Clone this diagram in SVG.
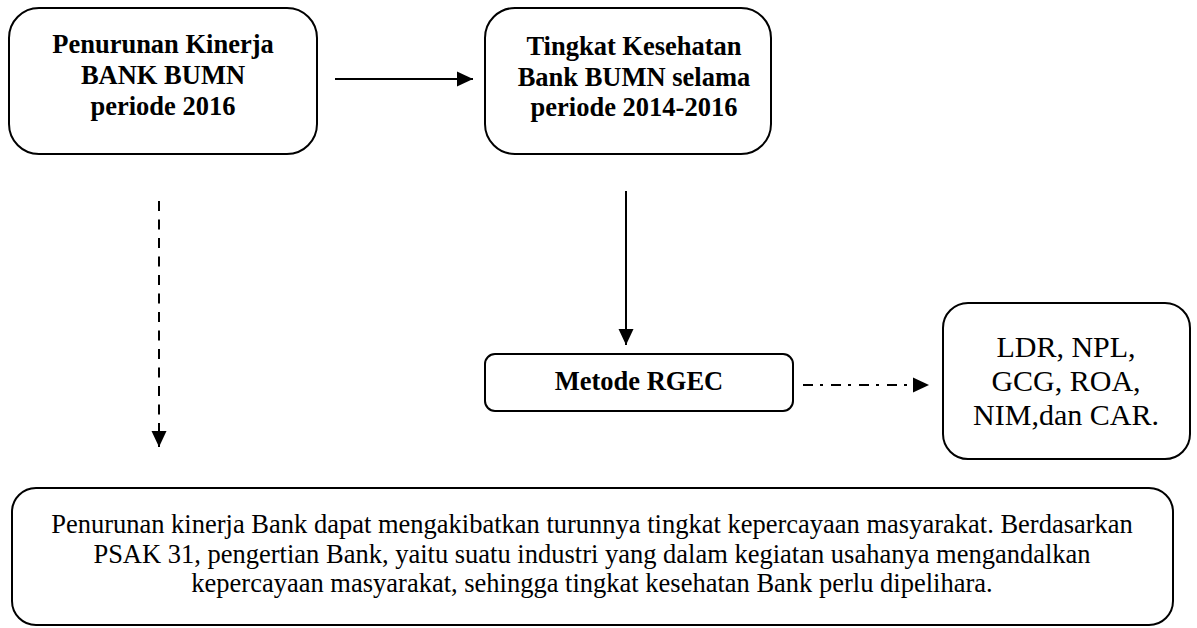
<svg xmlns="http://www.w3.org/2000/svg" width="1197" height="628" viewBox="0 0 1197 628">
<defs>
<style>
.box{fill:#fff;stroke:#000;stroke-width:2}
.tb{font-family:"Liberation Serif","Times New Roman",serif;font-weight:bold;font-size:26.5px;fill:#000;text-anchor:middle}
.tr{font-family:"Liberation Serif","Times New Roman",serif;font-size:26.5px;fill:#000;text-anchor:middle}
.tl{font-family:"Liberation Serif","Times New Roman",serif;font-size:30px;fill:#000;text-anchor:middle}
.ln{fill:none;stroke:#000;stroke-width:2}
</style>
<marker id="ah" markerWidth="16" markerHeight="16" viewBox="0 0 16 16" refX="16" refY="8" orient="auto" markerUnits="userSpaceOnUse">
<path d="M0,0.5 L16,8 L0,15.5 Z" fill="#000"/>
</marker>
</defs>
<rect width="1197" height="628" fill="#fff"/>
<g id="connectors">
<line class="ln" x1="335" y1="79" x2="473" y2="79" marker-end="url(#ah)"/>
<line class="ln" x1="626" y1="191" x2="626" y2="345" marker-end="url(#ah)"/>
<line class="ln" x1="159" y1="201" x2="159" y2="447" stroke-dasharray="10 8.5" marker-end="url(#ah)"/>
<line class="ln" x1="803" y1="385" x2="929" y2="385" stroke-dasharray="10 7 3 8" marker-end="url(#ah)"/>
</g>
<g id="node-penurunan">
<rect class="box" x="9" y="8" width="308" height="146" rx="30"/>
<text class="tb" x="163" y="53">Penurunan Kinerja</text>
<text class="tb" x="163" y="84">BANK BUMN</text>
<text class="tb" x="163" y="115">periode 2016</text>
</g>
<g id="node-tingkat">
<rect class="box" x="485" y="8" width="286" height="146" rx="30"/>
<text class="tb" x="634" y="55">Tingkat Kesehatan</text>
<text class="tb" x="634" y="86">Bank BUMN selama</text>
<text class="tb" x="634" y="116">periode 2014-2016</text>
</g>
<g id="node-rgec">
<rect class="box" x="485" y="354" width="308" height="57" rx="10"/>
<text class="tb" x="639" y="390">Metode RGEC</text>
</g>
<g id="node-rasio">
<rect class="box" x="943" y="303" width="247" height="156" rx="25"/>
<text class="tl" x="1066" y="357">LDR, NPL,</text>
<text class="tl" x="1066" y="391">GCG, ROA,</text>
<text class="tl" x="1066" y="425">NIM,dan CAR.</text>
</g>
<g id="node-keterangan">
<rect class="box" x="12" y="488" width="1161" height="137" rx="24"/>
<text class="tr" x="592" y="533">Penurunan kinerja Bank dapat mengakibatkan turunnya tingkat kepercayaan masyarakat. Berdasarkan</text>
<text class="tr" x="592" y="563">PSAK 31, pengertian Bank, yaitu suatu industri yang dalam kegiatan usahanya mengandalkan</text>
<text class="tr" x="592" y="592">kepercayaan masyarakat, sehingga tingkat kesehatan Bank perlu dipelihara.</text>
</g>
</svg>
